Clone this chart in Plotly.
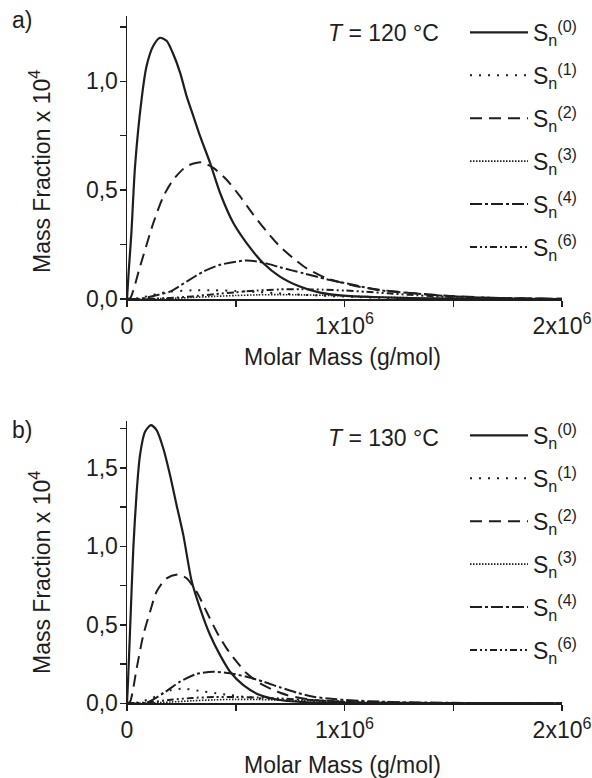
import plotly.graph_objects as go

# ---------------- data (molar mass in units of 1e6 g/mol, mass fraction x 1e4) ----------------
# Panel a) T = 120 °C
a_s0_m = [0, 0.008, 0.02, 0.037, 0.067, 0.09, 0.121, 0.152, 0.182, 0.213, 0.244, 0.274, 0.305, 0.336,
          0.382, 0.428, 0.489, 0.55, 0.627, 0.703, 0.795, 0.887, 1.01, 1.163, 1.35, 1.6, 2.0]
a_s0_v = [0, 0.13, 0.30, 0.61, 0.917, 1.07, 1.163, 1.20, 1.186, 1.124, 1.040, 0.932, 0.840, 0.748,
          0.625, 0.487, 0.349, 0.257, 0.164, 0.103, 0.057, 0.029, 0.014, 0.008, 0.003, 0.001, 0]

a_s1_m = [0, 0.05, 0.1, 0.15, 0.2, 0.3, 0.4, 0.5, 0.6, 0.7, 0.8, 0.9, 1.0, 1.2, 1.4, 1.6, 2.0]
a_s1_v = [0, 0.004, 0.014, 0.026, 0.034, 0.040, 0.040, 0.037, 0.032, 0.026, 0.020, 0.015, 0.011, 0.005,
          0.002, 0.001, 0]

a_s2_m = [0, 0.014, 0.06, 0.121, 0.167, 0.213, 0.274, 0.343, 0.397, 0.458, 0.520, 0.581, 0.642, 0.703,
          0.765, 0.826, 0.918, 1.04, 1.163, 1.3, 1.485, 1.7, 2.0]
a_s2_v = [0, 0.003, 0.149, 0.349, 0.471, 0.548, 0.610, 0.628, 0.602, 0.548, 0.471, 0.387, 0.310, 0.241,
          0.187, 0.141, 0.095, 0.062, 0.042, 0.028, 0.014, 0.005, 0.001]

a_s3_m = [0, 0.1, 0.2, 0.3, 0.4, 0.5, 0.6, 0.7, 0.8, 0.9, 1.0, 1.1, 1.2, 1.35, 1.5, 1.7, 2.0]
a_s3_v = [0, 0.0005, 0.003, 0.007, 0.012, 0.016, 0.019, 0.020, 0.019, 0.017, 0.014, 0.011, 0.008, 0.005,
          0.003, 0.001, 0]

a_s4_m = [0, 0.06, 0.121, 0.198, 0.274, 0.351, 0.428, 0.55, 0.627, 0.703, 0.811, 0.918, 1.04, 1.163,
          1.316, 1.47, 1.62, 1.8, 2.0]
a_s4_v = [0, 0.001, 0.014, 0.034, 0.080, 0.126, 0.157, 0.177, 0.167, 0.146, 0.118, 0.091, 0.065, 0.040,
          0.026, 0.014, 0.007, 0.003, 0.001]

a_s6_m = [0, 0.1, 0.2, 0.3, 0.4, 0.5, 0.6, 0.7, 0.8, 0.9, 1.0, 1.1, 1.2, 1.3, 1.45, 1.6, 1.8, 2.0]
a_s6_v = [0, 0.001, 0.005, 0.012, 0.022, 0.031, 0.039, 0.044, 0.045, 0.043, 0.039, 0.033, 0.026, 0.019,
          0.011, 0.005, 0.002, 0]

# Panel b) T = 130 °C
b_s0_m = [0, 0.005, 0.0138, 0.029, 0.0445, 0.0598, 0.0828, 0.110, 0.136, 0.167, 0.198, 0.228, 0.259,
          0.297, 0.336, 0.382, 0.428, 0.474, 0.535, 0.611, 0.703, 0.826, 1.0, 1.3, 2.0]
b_s0_v = [0, 0.15, 0.456, 0.987, 1.347, 1.581, 1.729, 1.772, 1.74, 1.623, 1.453, 1.262, 1.071,
          0.78, 0.605, 0.435, 0.307, 0.201, 0.116, 0.053, 0.021, 0.006, 0.002, 0.001, 0]

b_s1_m = [0, 0.05, 0.1, 0.15, 0.2, 0.26, 0.35, 0.41, 0.47, 0.55, 0.65, 0.75, 0.85, 1.0, 1.2, 1.5, 2.0]
b_s1_v = [0, 0.005, 0.025, 0.055, 0.083, 0.094, 0.075, 0.064, 0.053, 0.040, 0.027, 0.017, 0.010, 0.005,
          0.002, 0.001, 0]

b_s2_m = [0, 0.0138, 0.0445, 0.075, 0.106, 0.136, 0.182, 0.236, 0.274, 0.320, 0.366, 0.412, 0.458,
          0.504, 0.550, 0.611, 0.673, 0.734, 0.826, 0.918, 1.04, 1.2, 1.5, 2.0]
b_s2_v = [0, 0.01, 0.223, 0.435, 0.583, 0.711, 0.796, 0.821, 0.796, 0.711, 0.583, 0.456, 0.350,
          0.265, 0.191, 0.127, 0.085, 0.053, 0.027, 0.015, 0.006, 0.003, 0.001, 0]

b_s3_m = [0, 0.1, 0.2, 0.3, 0.4, 0.5, 0.6, 0.7, 0.8, 0.9, 1.0, 1.15, 1.3, 1.5, 2.0]
b_s3_v = [0, 0.002, 0.008, 0.016, 0.022, 0.025, 0.024, 0.021, 0.017, 0.013, 0.009, 0.005, 0.003, 0.001, 0]

b_s4_m = [0, 0.09, 0.167, 0.244, 0.320, 0.397, 0.474, 0.550, 0.627, 0.703, 0.780, 0.857, 0.964, 1.117,
          1.3, 1.6, 2.0]
b_s4_v = [0, 0.004, 0.064, 0.138, 0.187, 0.201, 0.191, 0.169, 0.138, 0.102, 0.068, 0.042, 0.025, 0.013,
          0.006, 0.002, 0]

b_s6_m = [0, 0.1, 0.2, 0.3, 0.4, 0.5, 0.6, 0.7, 0.8, 0.9, 1.0, 1.15, 1.3, 1.5, 2.0]
b_s6_v = [0, 0.006, 0.022, 0.034, 0.040, 0.040, 0.037, 0.031, 0.024, 0.018, 0.012, 0.007, 0.004, 0.001, 0]

series_names = ["S<sub>n</sub><sup>(0)</sup>", "S<sub>n</sub><sup>(1)</sup>", "S<sub>n</sub><sup>(2)</sup>",
                "S<sub>n</sub><sup>(3)</sup>", "S<sub>n</sub><sup>(4)</sup>", "S<sub>n</sub><sup>(6)</sup>"]

x_tickvals = [0, 1e6, 2e6]
x_ticktext = ["0", "1x10<sup>6</sup>", "2x10<sup>6</sup>"]
ya_tickvals = [0, 0.5, 1.0]
ya_ticktext = ["0,0", "0,5", "1,0"]
yb_tickvals = [0, 0.5, 1.0, 1.5]
yb_ticktext = ["0,0", "0,5", "1,0", "1,5"]

# ---------------- styling ----------------
INK = "#1e1e1e"
FONT = "Liberation Sans, Arial, sans-serif"
FS = 23
styles = [
    dict(dash="solid", width=2.2),
    dict(dash="2px,7px", width=2.0),
    dict(dash="12px,7px", width=2.0),
    dict(dash="1.5px,1.5px", width=1.6),
    dict(dash="12px,3px,3px,3px", width=2.0),
    dict(dash="7px,3px,2px,3px,2px,3px", width=2.0),
]

panel_a = [(a_s0_m, a_s0_v), (a_s1_m, a_s1_v), (a_s2_m, a_s2_v), (a_s3_m, a_s3_v), (a_s4_m, a_s4_v), (a_s6_m, a_s6_v)]
panel_b = [(b_s0_m, b_s0_v), (b_s1_m, b_s1_v), (b_s2_m, b_s2_v), (b_s3_m, b_s3_v), (b_s4_m, b_s4_v), (b_s6_m, b_s6_v)]

fig = go.Figure()
for panel, xa, ya, leg in [(panel_a, "x", "y", "legend"), (panel_b, "x2", "y2", "legend2")]:
    for i, ((m, v), st, nm) in enumerate(zip(panel, styles, series_names)):
        fig.add_trace(go.Scatter(
            x=[mm * 1e6 for mm in m], y=v, mode="lines", name=nm,
            line=dict(color=INK, width=st["width"], dash=st["dash"], shape="spline", smoothing=0.7),
            xaxis=xa, yaxis=ya, legend=leg, legendgroup=f"{leg}{i}",
        ))

W, H = 592, 778
def px_x(p): return p / W
def px_y(p): return 1 - p / H

xdom = [px_x(127), px_x(562)]
common_x = dict(range=[0, 2e6], tickvals=x_tickvals, ticktext=x_ticktext, showline=True, linecolor=INK,
                linewidth=1.5, ticks="outside", ticklen=6, tickwidth=1.5, tickcolor=INK, showgrid=False,
                zeroline=False, tickfont=dict(size=FS, color=INK, family=FONT), domain=xdom,
                automargin=False,
                minor=dict(dtick=5e5, ticks="outside", ticklen=6, tickwidth=1.5, tickcolor=INK, showgrid=False))
common_y = dict(showline=True, linecolor=INK, linewidth=1.5, ticks="outside", ticklen=6, tickwidth=1.5,
                tickcolor=INK, showgrid=False, zeroline=False, automargin=False, ticklabelstandoff=-3,
                tickfont=dict(size=FS, color=INK, family=FONT),
                minor=dict(dtick=0.25, ticks="outside", ticklen=6, tickwidth=1.5, tickcolor=INK, showgrid=False))

leg_common = dict(xanchor="left", yanchor="top", bgcolor="rgba(0,0,0,0)",
                  font=dict(size=FS, family=FONT, color=INK), itemwidth=58, tracegroupgap=10,
                  traceorder="grouped")

fig.update_layout(
    width=W, height=H, margin=dict(l=0, r=0, t=0, b=0),
    paper_bgcolor="white", plot_bgcolor="white",
    font=dict(family=FONT, size=FS, color=INK),
    xaxis=dict(**common_x, anchor="y"),
    yaxis=dict(**common_y, range=[0, 1.30], tickvals=ya_tickvals, ticktext=ya_ticktext,
               domain=[px_y(299), px_y(16)], anchor="x"),
    xaxis2=dict(**common_x, anchor="y2"),
    yaxis2=dict(**common_y, range=[0, 1.80], tickvals=yb_tickvals, ticktext=yb_ticktext,
                domain=[px_y(703.3), px_y(420.7)], anchor="x2"),
    legend=dict(x=px_x(465), y=px_y(11), **leg_common),
    legend2=dict(x=px_x(465), y=px_y(414), **leg_common),
    showlegend=True,
)

ann = [
    dict(text="a)", x=px_x(10), y=px_y(20), xanchor="left", yanchor="middle"),
    dict(text="b)", x=px_x(10), y=px_y(430), xanchor="left", yanchor="middle"),
    dict(text="<i>T</i> = 120 °C", x=px_x(441), y=px_y(33), xanchor="right", yanchor="middle"),
    dict(text="<i>T</i> = 130 °C", x=px_x(441), y=px_y(438), xanchor="right", yanchor="middle"),
    dict(text="Molar Mass (g/mol)", x=px_x(342), y=px_y(357), xanchor="center", yanchor="middle"),
    dict(text="Molar Mass (g/mol)", x=px_x(342), y=px_y(765), xanchor="center", yanchor="middle"),
    dict(text="Mass Fraction x 10<sup>4</sup>", x=px_x(40), y=px_y(172), textangle=-90,
         xanchor="center", yanchor="middle"),
    dict(text="Mass Fraction x 10<sup>4</sup>", x=px_x(40), y=px_y(573), textangle=-90,
         xanchor="center", yanchor="middle"),
]
for a in ann:
    fig.add_annotation(xref="paper", yref="paper", showarrow=False,
                       font=dict(size=FS, family=FONT, color=INK), **a)

fig.write_html("out.html", config={"displayModeBar": False, "staticPlot": True},
               post_script="document.body.style.margin='0px';document.body.style.overflow='hidden';")
